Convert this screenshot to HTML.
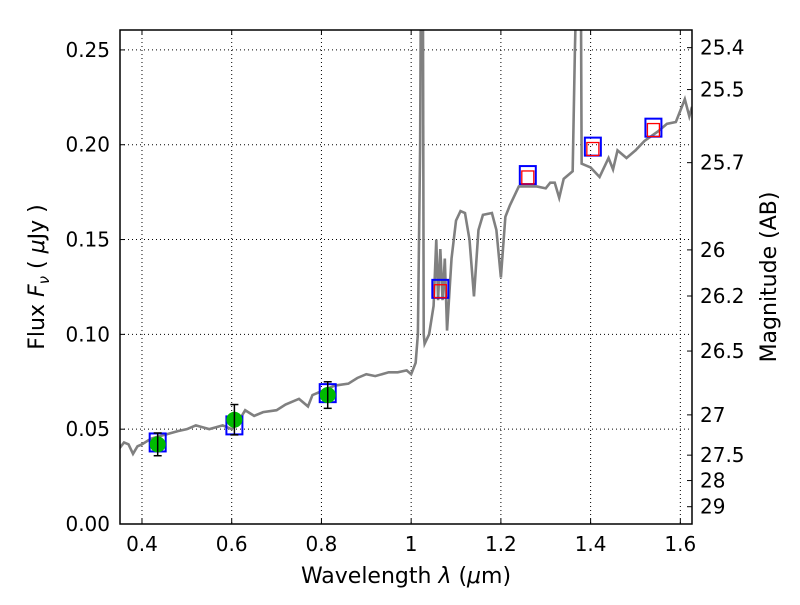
<!DOCTYPE html>
<html><head><meta charset="utf-8"><style>
body{margin:0;background:#fff;width:800px;height:600px;overflow:hidden}
svg text{font-family:"DejaVu Sans","Liberation Sans",sans-serif;fill:#000}
</style></head><body>
<svg id="c" width="800" height="600" xmlns="http://www.w3.org/2000/svg"></svg>
<script>
const xTicks=[0.4,0.6,0.8,1,1.2,1.4,1.6];
const xTickLabels=["0.4","0.6","0.8","1","1.2","1.4","1.6"];
const yTicks=[0,0.05,0.1,0.15,0.2,0.25];
const yTickLabels=["0.00","0.05","0.10","0.15","0.20","0.25"];
const magTicks=[25.4,25.5,25.7,26,26.2,26.5,27,27.5,28,29];
const magTickLabels=["25.4","25.5","25.7","26","26.2","26.5","27","27.5","28","29"];
const specWave=[0.35,0.36,0.37,0.38,0.39,0.40,0.42,0.45,0.48,0.50,0.52,0.55,0.58,0.60,0.62,0.63,0.65,0.67,0.70,0.72,0.75,0.77,0.78,0.80,0.83,0.86,0.88,0.90,0.92,0.95,0.97,0.99,1.00,1.01,1.015,1.02,1.022,1.026,1.028,1.03,1.04,1.05,1.056,1.06,1.065,1.07,1.075,1.08,1.09,1.10,1.11,1.12,1.13,1.14,1.15,1.16,1.18,1.19,1.20,1.21,1.22,1.24,1.26,1.28,1.30,1.31,1.32,1.33,1.34,1.36,1.365,1.37,1.378,1.38,1.40,1.42,1.44,1.45,1.46,1.48,1.50,1.52,1.55,1.57,1.59,1.61,1.62,1.626];
const specFlux=[0.040,0.043,0.042,0.037,0.041,0.042,0.045,0.047,0.049,0.050,0.052,0.050,0.052,0.050,0.056,0.060,0.057,0.059,0.060,0.063,0.066,0.062,0.068,0.070,0.073,0.074,0.077,0.079,0.078,0.080,0.080,0.081,0.079,0.085,0.10,0.20,0.30,0.30,0.10,0.095,0.100,0.115,0.150,0.118,0.145,0.118,0.140,0.102,0.140,0.160,0.165,0.164,0.150,0.120,0.155,0.163,0.164,0.155,0.130,0.162,0.168,0.178,0.178,0.178,0.177,0.180,0.180,0.172,0.182,0.186,0.25,0.30,0.30,0.19,0.188,0.183,0.193,0.187,0.197,0.193,0.197,0.202,0.207,0.211,0.212,0.224,0.215,0.220];
const obsWave=[0.435,0.606,0.814];
const obsFlux=[0.042,0.055,0.068];
const obsErr=[0.006,0.008,0.007];
const modelWave=[0.435,0.606,0.814,1.065,1.26,1.405,1.54];
const modelFlux=[0.043,0.052,0.069,0.124,0.184,0.199,0.209];
const redWave=[1.065,1.26,1.405,1.54];
const redFlux=[0.123,0.183,0.198,0.208];

const L=120,R=692,T=30,B=524,xmin=0.351,xmax=1.626,ymin=0,ymax=0.2605;
const sx=v=>L+(v-xmin)/(xmax-xmin)*(R-L);
const sy=v=>B-(v-ymin)/(ymax-ymin)*(B-T);
const svg=document.getElementById('c');
const NS="http://www.w3.org/2000/svg";
function mk(tag,attrs,parent){const e=document.createElementNS(NS,tag);for(const k in attrs)e.setAttribute(k,attrs[k]);(parent||svg).appendChild(e);return e;}
const clip=mk('clipPath',{id:'pc'});mk('rect',{x:L,y:T,width:R-L,height:B-T},clip);
xTicks.forEach((t,i)=>{const x=sx(t);
 let g=mk('line',{x1:x,x2:x,y1:T,y2:B,stroke:'#000','stroke-width':1,'stroke-dasharray':'1,3'});
 
 
 mk('line',{x1:x,x2:x,y1:B,y2:B-5,stroke:'#000'});mk('line',{x1:x,x2:x,y1:T,y2:T+5,stroke:'#000'});
 let tx=mk('text',{x:x,y:B+27,'text-anchor':'middle','font-size':20});tx.textContent=xTickLabels[i];
 
 
});
yTicks.forEach((t,i)=>{const y=sy(t);
 let g=mk('line',{x1:L,x2:R,y1:y,y2:y,stroke:'#000','stroke-width':1,'stroke-dasharray':'1,3'});
 
 
 mk('line',{x1:L,x2:L+5,y1:y,y2:y,stroke:'#000'});
 let tx=mk('text',{x:L-10,y:y+7,'text-anchor':'end','font-size':20});tx.textContent=yTickLabels[i];
 
 
});
magTicks.forEach((m,i)=>{const f=Math.pow(10,(23.9-m)/2.5);const y=sy(f);
 mk('line',{x1:R-5,x2:R,y1:y,y2:y,stroke:'#000'});
 let tx=mk('text',{x:R+8,y:y+7,'font-size':20});tx.textContent=magTickLabels[i];
 
 
});
const sp=mk('polyline',{points:specWave.map((w,i)=>sx(w)+','+sy(specFlux[i])).join(' '),fill:'none',stroke:'#808080','stroke-width':2.6,'clip-path':'url(#pc)'});


modelWave.forEach((w,i)=>{
 const r=mk('rect',{x:sx(w)-8,y:sy(modelFlux[i])-9,width:16,height:18,fill:'none',stroke:'#0000ff','stroke-width':2});
 
 
});
redWave.forEach((w,i)=>{
 const r=mk('rect',{x:sx(w)-6,y:sy(redFlux[i])-6,width:12,height:13,fill:'none',stroke:'#ff0000','stroke-width':1.3});
 
 
});
obsWave.forEach((w,i)=>{const x=sx(w),y1=sy(obsFlux[i]-obsErr[i]),y2=sy(obsFlux[i]+obsErr[i]);
 const c=mk('circle',{cx:x,cy:sy(obsFlux[i]),r:8,fill:'#00bb00'});
 
 
 mk('line',{x1:x,x2:x,y1:y1,y2:y2,stroke:'#000','stroke-width':1.5});
 mk('line',{x1:x-4,x2:x+4,y1:y1,y2:y1,stroke:'#000','stroke-width':1.5});
 mk('line',{x1:x-4,x2:x+4,y1:y2,y2:y2,stroke:'#000','stroke-width':1.5});
});
const fr=mk('rect',{x:L,y:T,width:R-L,height:B-T,fill:'none',stroke:'#000','stroke-width':1.5});


</script>
<svg width="800" height="600" style="position:absolute;left:0;top:0" xmlns="http://www.w3.org/2000/svg">
<text x="406" y="583" text-anchor="middle" font-size="22" font-family="DejaVu Sans,sans-serif">Wavelength  <tspan font-style="italic">λ</tspan> (<tspan font-style="italic">μ</tspan>m)</text>
<text transform="translate(44,277) rotate(-90)" text-anchor="middle" font-size="22" font-family="DejaVu Sans,sans-serif">Flux  <tspan font-style="italic">F</tspan><tspan font-style="italic" font-size="15" dy="5">ν</tspan><tspan dy="-5">  ( </tspan><tspan font-style="italic">μ</tspan>Jy )</text>
<text transform="translate(776,277) rotate(-90)" text-anchor="middle" font-size="22" font-family="DejaVu Sans,sans-serif">Magnitude (AB)</text>
</svg>
</body></html>
